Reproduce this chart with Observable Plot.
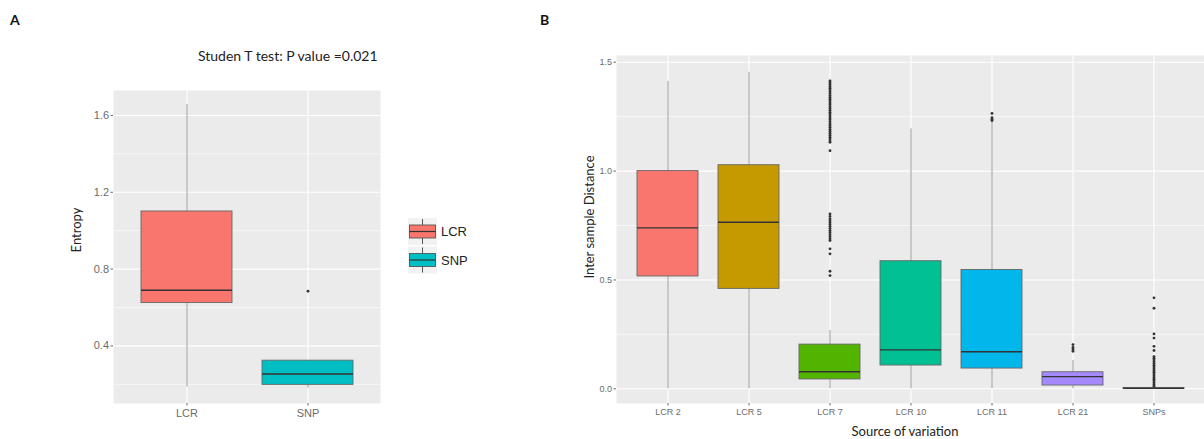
<!DOCTYPE html>
<html>
<head>
<meta charset="utf-8">
<script src="https://cdn.jsdelivr.net/npm/d3@7"></script>
<script src="https://cdn.jsdelivr.net/npm/@observablehq/plot@0.6"></script>
<style>
  html, body { margin: 0; padding: 0; background: #fff; }
  #wrap { position: relative; width: 1204px; height: 439px; overflow: hidden; }
  #wrap > svg, #wrap > figure { position: absolute; margin: 0; }
</style>
</head>
<body>
<div id="wrap"></div>
<script>
// ---------- Panel A data ----------
const catsA = ["LCR", "SNP"];
const colorsA = ["#F8766D", "#00BFC4"];
const loA  = [0.186, 0.180];
const q1A  = [0.623, 0.197];
const medA = [0.690, 0.254];
const q3A  = [1.100, 0.323];
const hiA  = [1.657, 0.323];
const outSNP_A = [0.685];
const ticksA = [0.4, 0.8, 1.2, 1.6];
const minorA = [0.2, 0.6, 1.0, 1.4];

// ---------- Panel B data ----------
const catsB = ["LCR 2", "LCR 5", "LCR 7", "LCR 10", "LCR 11", "LCR 21", "SNPs"];
const colorsB = ["#F8766D", "#C49A00", "#53B400", "#00C094", "#00B6EB", "#A58AFF", "#FB61D7"];
const loB  = [0.000, 0.000, 0.000, 0.000, 0.000, 0.000, 0.000];
const q1B  = [0.516, 0.459, 0.043, 0.107, 0.093, 0.015, 0.000];
const medB = [0.739, 0.765, 0.078, 0.179, 0.170, 0.056, 0.002];
const q3B  = [1.000, 1.027, 0.203, 0.586, 0.546, 0.076, 0.004];
const hiB  = [1.412, 1.454, 0.268, 1.194, 1.232, 0.130, 0.004];
const outLCR7 = [1.414, 1.406, 1.398, 1.389, 1.381, 1.372, 1.364, 1.356, 1.347, 1.339, 1.330,
                 1.322, 1.313, 1.305, 1.296, 1.288, 1.279, 1.270, 1.262, 1.253, 1.244, 1.236,
                 1.227, 1.218, 1.210, 1.201, 1.192, 1.183, 1.174, 1.165, 1.156, 1.147, 1.138, 1.132, 1.094,
                 0.803, 0.792, 0.781, 0.772, 0.763, 0.754, 0.745, 0.736, 0.727, 0.718, 0.708, 0.698,
                 0.689, 0.681, 0.643, 0.620, 0.540, 0.520];
const outLCR11 = [1.265, 1.245, 1.238, 1.232];
const outLCR21 = [0.203, 0.190, 0.181, 0.172];
const outSNPs = [0.418, 0.370, 0.252, 0.233, 0.195, 0.176, 0.148, 0.140, 0.132, 0.124, 0.116,
                 0.108, 0.100, 0.092, 0.084, 0.076, 0.068, 0.060, 0.052, 0.044, 0.036, 0.028, 0.020, 0.012];
const ticksB = [0.0, 0.5, 1.0, 1.5];
const minorB = [0.25, 0.75, 1.25];

// ---------- tables ----------
const boxesA = catsA.map((c, i) => ({cat: c, lo: loA[i], q1: q1A[i], med: medA[i], q3: q3A[i], hi: hiA[i]}));
const outsA = outSNP_A.map(v => ({cat: "SNP", v}));
const boxesB = catsB.map((c, i) => ({cat: c, lo: loB[i], q1: q1B[i], med: medB[i], q3: q3B[i], hi: hiB[i]}));
const outsB = [
  ...outLCR7.map(v => ({cat: "LCR 7", v})),
  ...outLCR11.map(v => ({cat: "LCR 11", v})),
  ...outLCR21.map(v => ({cat: "LCR 21", v})),
  ...outSNPs.map(v => ({cat: "SNPs", v}))
];

const wrap = document.getElementById("wrap");

function boxPlot({cats, colors, boxes, outs, ticks, minor, yDomain, width, height, margins, tickFont, left}) {
  const p = Plot.plot({
    width, height,
    marginLeft: margins[0], marginRight: margins[1], marginTop: margins[2], marginBottom: margins[3],
    style: {fontFamily: "'Liberation Sans', Arial, sans-serif", fontSize: tickFont + "px", color: "#6b6b6b", background: "transparent", overflow: "visible"},
    x: {type: "band", domain: cats, paddingInner: 0.25, paddingOuter: 0.225},
    y: {domain: yDomain},
    color: {domain: cats, range: colors},
    marks: [
      Plot.frame({fill: "#EBEBEB", stroke: null}),
      Plot.ruleY(minor, {stroke: "#ffffff", strokeWidth: 0.6}),
      Plot.ruleY(ticks, {stroke: "#ffffff", strokeWidth: 1.1}),
      Plot.ruleX(cats, {stroke: "#ffffff", strokeWidth: 1.1}),
      Plot.ruleX(boxes, {x: "cat", y1: "lo", y2: "hi", stroke: "#9a9a9a", strokeWidth: 1}),
      Plot.barY(boxes, {x: "cat", y1: "q1", y2: "q3", fill: "cat", stroke: "#666666", strokeWidth: 0.9}),
      Plot.tickY(boxes, {x: "cat", y: "med", stroke: "#333333", strokeWidth: 1.4}),
      Plot.dot(outs, {x: "cat", y: "v", r: 1.4, fill: "#333333", stroke: null}),
      Plot.axisY({ticks, tickFormat: d3.format(".1f"), tickSize: 2.5, tickPadding: 2, label: null}),
      Plot.axisX({tickSize: 2.5, tickPadding: 3, label: null})
    ]
  });
  p.style.left = left + "px";
  p.style.top = "0px";
  wrap.appendChild(p);
}

boxPlot({cats: catsA, colors: colorsA, boxes: boxesA, outs: outsA, ticks: ticksA, minor: minorA,
  yDomain: [0.10, 1.73], width: 400, height: 439, margins: [113, 20, 90, 36], tickFont: 11, left: 0});

boxPlot({cats: catsB, colors: colorsB, boxes: boxesB, outs: outsB, ticks: ticksB, minor: minorB,
  yDomain: [-0.0675, 1.531], width: 674, height: 439, margins: [86, 0, 55, 36], tickFont: 9, left: 530});

// ---------- overlay text & legend ----------
const ov = d3.create("svg").attr("width", 1204).attr("height", 439)
  .style("left", "0px").style("top", "0px").style("pointer-events", "none")
  .style("font-family", "Lato, 'Open Sans', sans-serif");

ov.append("text").attr("x", 10).attr("y", 25).attr("font-weight", "bold").attr("font-size", 14).attr("fill", "#111").text("A");
ov.append("text").attr("x", 540).attr("y", 25).attr("font-weight", "bold").attr("font-size", 14).attr("fill", "#111").text("B");
ov.append("text").attr("x", 198).attr("y", 61).attr("font-size", 14).attr("fill", "#222").text("Studen T test: P value =0.021");
ov.append("text").attr("transform", "translate(81,230) rotate(-90)").attr("text-anchor", "middle")
  .attr("font-size", 13).attr("fill", "#222").text("Entropy");
ov.append("text").attr("transform", "translate(594,217) rotate(-90)").attr("text-anchor", "middle")
  .attr("font-size", 13).attr("fill", "#222").text("Inter sample Distance");
ov.append("text").attr("x", 905).attr("y", 436).attr("text-anchor", "middle")
  .attr("font-size", 13).attr("fill", "#222").text("Source of variation");

// legend
catsA.forEach((c, i) => {
  const y0 = 218 + i * 28.5;
  const g = ov.append("g");
  g.append("rect").attr("x", 408).attr("y", y0).attr("width", 29).attr("height", 27).attr("fill", "#F2F2F2");
  g.append("line").attr("x1", 422.5).attr("x2", 422.5).attr("y1", y0 + 1).attr("y2", y0 + 26).attr("stroke", "#555").attr("stroke-width", 1);
  g.append("rect").attr("x", 409.5).attr("y", y0 + 7).attr("width", 26).attr("height", 13)
    .attr("fill", colorsA[i]).attr("stroke", "#555").attr("stroke-width", 0.9);
  g.append("line").attr("x1", 409.5).attr("x2", 435.5).attr("y1", y0 + 13.5).attr("y2", y0 + 13.5).attr("stroke", "#333").attr("stroke-width", 1.2);
  g.append("text").attr("x", 441).attr("y", y0 + 13.5).attr("dy", "0.35em")
    .attr("font-family", "'Liberation Sans', Arial, sans-serif").attr("font-size", 13).attr("fill", "#222").text(c);
});

wrap.appendChild(ov.node());
</script>
</body>
</html>
